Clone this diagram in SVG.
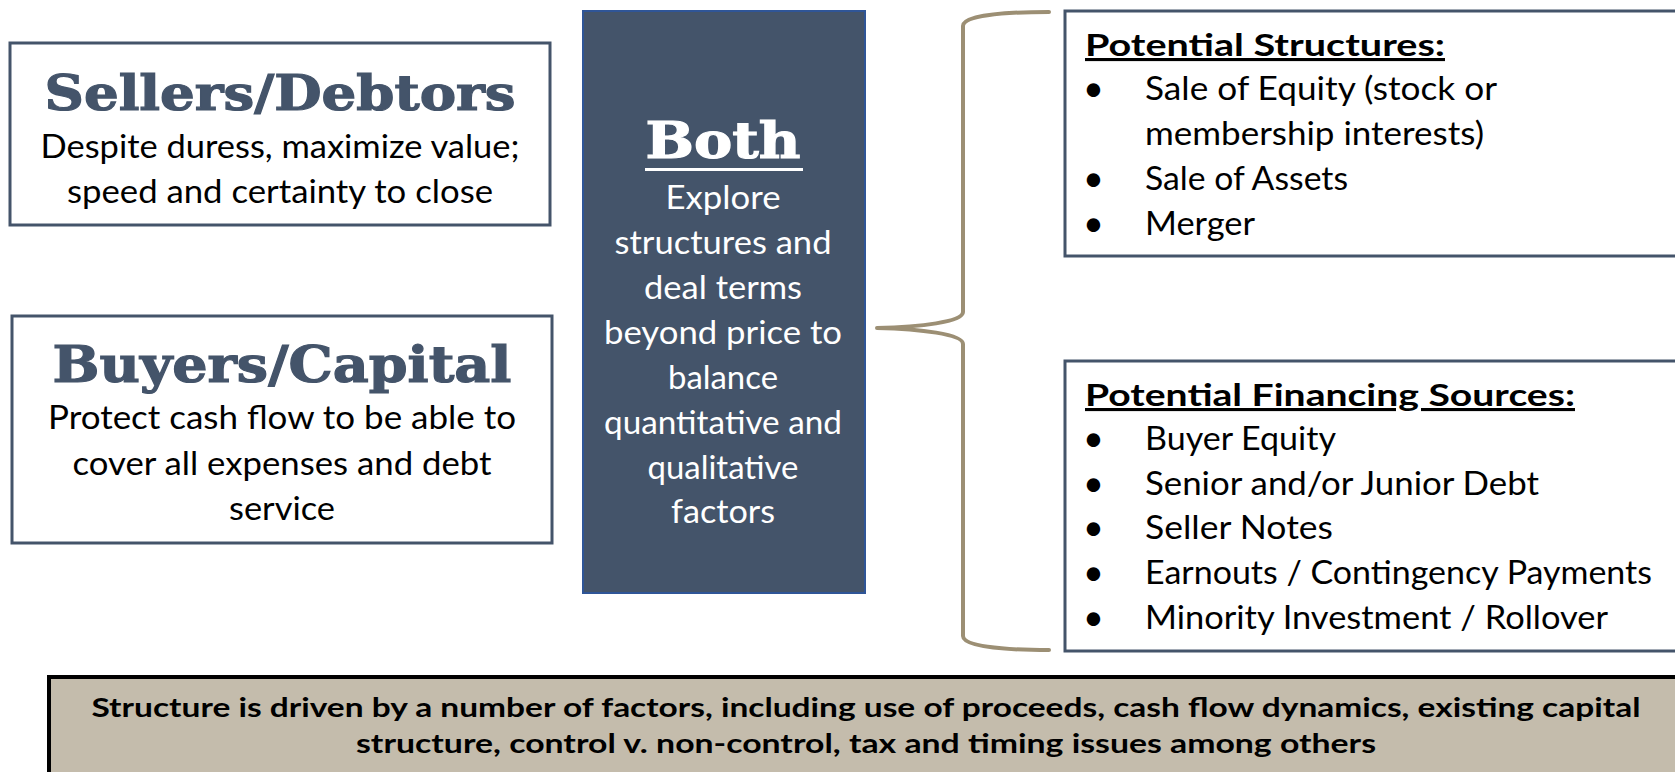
<svg xmlns="http://www.w3.org/2000/svg" width="1675" height="772" viewBox="0 0 1675 772">
<style>
.box{fill:#fff;stroke:#44546A;stroke-width:3}
.title{font-family:"DejaVu Serif",serif;font-weight:bold;fill:#44546A;stroke:#44546A;stroke-width:1.2;text-anchor:middle}
.body{font-family:Lato,"Open Sans",sans-serif;font-size:32px;fill:#000;text-anchor:middle}
.wbody{font-family:Lato,"Open Sans",sans-serif;font-size:32px;fill:#fff;text-anchor:middle}
.head{font-family:Lato,"Open Sans",sans-serif;font-weight:bold;font-size:31px;fill:#000;text-decoration:underline}
.item{font-family:Lato,"Open Sans",sans-serif;font-size:32px;fill:#000}
.bul{font-family:Lato,"Open Sans",sans-serif;font-size:36px;fill:#000}
.foot{font-family:Lato,"Open Sans",sans-serif;font-weight:bold;font-size:27px;fill:#000;text-anchor:middle}
</style>
<rect width="1675" height="772" fill="#fff"/>
<g id="sellers">
<rect class="box" x="10" y="43" width="540" height="182"/>
<text class="title" x="280" y="110" font-size="48" textLength="471" lengthAdjust="spacingAndGlyphs">Sellers/Debtors</text>
<text class="body" x="280" y="158" textLength="479" lengthAdjust="spacingAndGlyphs">Despite duress, maximize value;</text>
<text class="body" x="280" y="203" textLength="426" lengthAdjust="spacingAndGlyphs">speed and certainty to close</text>
</g>
<g id="buyers">
<rect class="box" x="12" y="316" width="540" height="227"/>
<text class="title" x="282" y="382" font-size="50" textLength="459" lengthAdjust="spacingAndGlyphs">Buyers/Capital</text>
<text class="body" x="282" y="429" textLength="468" lengthAdjust="spacingAndGlyphs">Protect cash flow to be able to</text>
<text class="body" x="282" y="475" textLength="419" lengthAdjust="spacingAndGlyphs">cover all expenses and debt</text>
<text class="body" x="282" y="520" textLength="106" lengthAdjust="spacingAndGlyphs">service</text>
</g>
<g id="both">
<rect x="583" y="11" width="282" height="582" fill="#44546A" stroke="#2F5597" stroke-width="2"/>
<text x="723" y="158" font-family="'DejaVu Serif',serif" font-weight="bold" font-size="50" fill="#fff" stroke="#fff" stroke-width="1.2" text-anchor="middle" textLength="155" lengthAdjust="spacingAndGlyphs">Both</text>
<rect x="645" y="168" width="158" height="3" fill="#fff"/>
<text class="wbody" x="723" y="209" textLength="115" lengthAdjust="spacingAndGlyphs">Explore</text>
<text class="wbody" x="723" y="254" textLength="217" lengthAdjust="spacingAndGlyphs">structures and</text>
<text class="wbody" x="723" y="299" textLength="158" lengthAdjust="spacingAndGlyphs">deal terms</text>
<text class="wbody" x="723" y="344" textLength="238" lengthAdjust="spacingAndGlyphs">beyond price to</text>
<text class="wbody" x="723" y="389" textLength="110" lengthAdjust="spacingAndGlyphs">balance</text>
<text class="wbody" x="723" y="434" textLength="238" lengthAdjust="spacingAndGlyphs">quantitative and</text>
<text class="wbody" x="723" y="479" textLength="151" lengthAdjust="spacingAndGlyphs">qualitative</text>
<text class="wbody" x="723" y="523" textLength="104" lengthAdjust="spacingAndGlyphs">factors</text>
</g>
<g id="connectors">
<path d="M1049,12 C1000,12 963,16 963,26 L963,312 C963,322 920,327 877,328 C920,329 963,334 963,344 L963,636 C963,646 1000,650 1049,650" fill="none" stroke="#9C8F74" stroke-width="4" stroke-linecap="round" stroke-linejoin="round"/>
</g>
<g id="structures">
<rect class="box" x="1065" y="11" width="620" height="245"/>
<text class="head" x="1085" y="56" textLength="360" lengthAdjust="spacingAndGlyphs">Potential Structures:</text>
<text class="bul" x="1083" y="101">•</text><text class="item" x="1145" y="100" textLength="352" lengthAdjust="spacingAndGlyphs">Sale of Equity (stock or</text>
<text class="item" x="1145" y="145" textLength="339" lengthAdjust="spacingAndGlyphs">membership interests)</text>
<text class="bul" x="1083" y="191">•</text><text class="item" x="1145" y="190" textLength="203" lengthAdjust="spacingAndGlyphs">Sale of Assets</text>
<text class="bul" x="1083" y="236">•</text><text class="item" x="1145" y="235" textLength="110" lengthAdjust="spacingAndGlyphs">Merger</text>
</g>
<g id="financing">
<rect class="box" x="1065" y="361" width="620" height="290"/>
<text class="head" x="1085" y="406" textLength="490" lengthAdjust="spacingAndGlyphs">Potential Financing Sources:</text>
<text class="bul" x="1083" y="451">•</text><text class="item" x="1145" y="450" textLength="191" lengthAdjust="spacingAndGlyphs">Buyer Equity</text>
<text class="bul" x="1083" y="496">•</text><text class="item" x="1145" y="495" textLength="394" lengthAdjust="spacingAndGlyphs">Senior and/or Junior Debt</text>
<text class="bul" x="1083" y="540">•</text><text class="item" x="1145" y="539" textLength="188" lengthAdjust="spacingAndGlyphs">Seller Notes</text>
<text class="bul" x="1083" y="585">•</text><text class="item" x="1145" y="584" textLength="507" lengthAdjust="spacingAndGlyphs">Earnouts / Contingency Payments</text>
<text class="bul" x="1083" y="630">•</text><text class="item" x="1145" y="629" textLength="463" lengthAdjust="spacingAndGlyphs">Minority Investment / Rollover</text>
</g>
<g id="footer">
<rect x="49" y="677" width="1640" height="110" fill="#C4BCAC" stroke="#000" stroke-width="4"/>
<text class="foot" x="866" y="717" textLength="1549" lengthAdjust="spacingAndGlyphs">Structure is driven by a number of factors, including use of proceeds, cash flow dynamics, existing capital</text>
<text class="foot" x="866" y="753" textLength="1020" lengthAdjust="spacingAndGlyphs">structure, control v. non-control, tax and timing issues among others</text>
</g>
</svg>
